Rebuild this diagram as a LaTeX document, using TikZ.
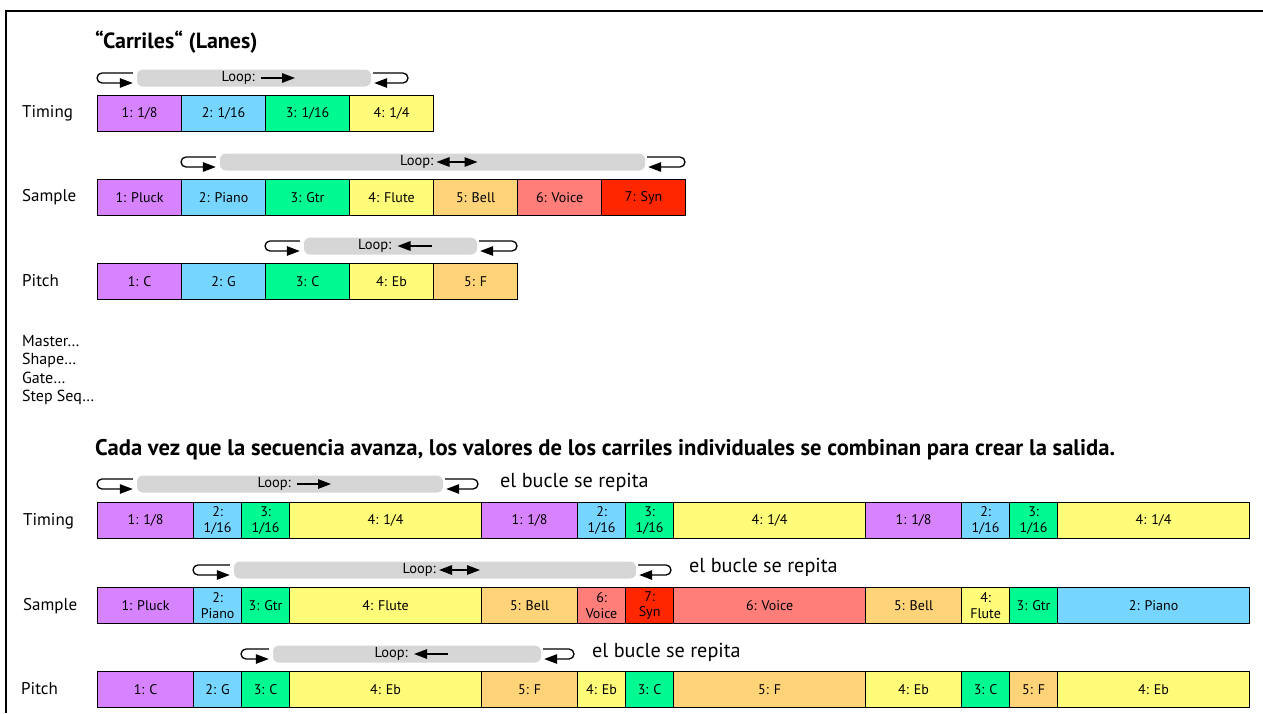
\documentclass[tikz,border=0pt]{standalone}
\usepackage{fontspec}
\setmainfont{PT Sans}
\usetikzlibrary{arrows.meta,positioning}
\definecolor{lav}{HTML}{D783FF}
\definecolor{sky}{HTML}{76D6FF}
\definecolor{foam}{HTML}{00FA92}
\definecolor{banana}{HTML}{FFFC79}
\definecolor{canta}{HTML}{FFD479}
\definecolor{salmon}{HTML}{FF7E79}
\definecolor{mara}{HTML}{FF2600}
\definecolor{barg}{HTML}{D6D6D6}

\begin{document}
\begin{tikzpicture}[x=1pt,y=-1pt,>={Triangle[length=13pt,width=9.5pt]},
  cell/.style={draw,line width=1.2pt,fill=#1,minimum height=36pt,inner sep=0pt,
    anchor=north west,align=center,font=\fontsize{14}{15.5}\selectfont},
  lane/.style={anchor=west,inner sep=0pt,font=\fontsize{17}{20}\selectfont},
  loopbar/.style={fill=barg,rounded corners=6pt,minimum height=17pt,inner sep=0pt},
  looptxt/.style={anchor=east,inner sep=0pt,font=\fontsize{14.5}{16}\selectfont},
  again/.style={anchor=west,inner sep=0pt,font=\fontsize{20.2}{24}\selectfont},
  hook/.style={line width=1.3pt,rounded corners=5pt}]
  \useasboundingbox (0,0) rectangle (1263,713);
  \draw[line width=2.5pt] (6,713) -- (6,11) -- (1263,11);

  \node[anchor=west,inner sep=0pt,font=\bfseries\fontsize{22}{26}\selectfont] (title) at (95,42) {“Carriles“ (Lanes)};

  % lanes, one step each
  \foreach \txt/\col [count=\i] in {{1: 1/8}/lav,{2: 1/16}/sky,{3: 1/16}/foam,{4: 1/4}/banana}
    \node[cell=\col,minimum width=84pt] (tim\i) at ({97+84*(\i-1)},95) {\txt};
  \foreach \txt/\col [count=\i] in {{1: Pluck}/lav,{2: Piano}/sky,{3: Gtr}/foam,{4: Flute}/banana,
      {5: Bell}/canta,{6: Voice}/salmon,{7: Syn}/mara}
    \node[cell=\col,minimum width=84pt] (smp\i) at ({97+84*(\i-1)},179) {\txt};
  \foreach \txt/\col [count=\i] in {{1: C}/lav,{2: G}/sky,{3: C}/foam,{4: Eb}/banana,{5: F}/canta}
    \node[cell=\col,minimum width=84pt] (pit\i) at ({97+84*(\i-1)},263) {\txt};

  \node[lane] (ltim) at (22,113) {Timing};
  \node[lane] (lsmp) at (22,197) {Sample};
  \node[lane] (lpit) at (22,281) {Pitch};
  \node[lane,anchor=north west,align=left,font=\fontsize{16}{18.5}\selectfont] (more) at (22,335)
    {Master…\\Shape…\\Gate…\\Step Seq…};

  \node[anchor=west,inner sep=0pt,font=\bfseries\fontsize{22.6}{26}\selectfont] (combine) at (95,450)
    {Cada vez que la secuencia avanza, los valores de los carriles individuales se combinan para crear la salida.};

  % combined output, widths in 1/16 units
  \foreach \k in {0,1,2}
    \foreach \txt/\col/\s/\w [count=\i] in {{1: 1/8}/lav/0/2,{2:\\1/16}/sky/2/1,{3:\\1/16}/foam/3/1,{4: 1/4}/banana/4/4}
      \node[cell=\col,minimum width=48*\w] (btim\k\i) at ({97+48*(\s+8*\k)},502) {\txt};
  \foreach \txt/\col/\s/\w [count=\i] in {{1: Pluck}/lav/0/2,{2:\\Piano}/sky/2/1,{3: Gtr}/foam/3/1,
      {4: Flute}/banana/4/4,{5: Bell}/canta/8/2,{6:\\Voice}/salmon/10/1,{7:\\Syn}/mara/11/1,
      {6: Voice}/salmon/12/4,{5: Bell}/canta/16/2,{4:\\Flute}/banana/18/1,{3: Gtr}/foam/19/1,{2: Piano}/sky/20/4}
    \node[cell=\col,minimum width=48*\w] (bsmp\i) at ({97+48*\s},587) {\txt};
  \foreach \txt/\col/\s/\w [count=\i] in {{1: C}/lav/0/2,{2: G}/sky/2/1,{3: C}/foam/3/1,{4: Eb}/banana/4/4,
      {5: F}/canta/8/2,{4: Eb}/banana/10/1,{3: C}/foam/11/1,{5: F}/canta/12/4,
      {4: Eb}/banana/16/2,{3: C}/foam/18/1,{5: F}/canta/19/1,{4: Eb}/banana/20/4}
    \node[cell=\col,minimum width=48*\w] (bpit\i) at ({97+48*\s},671) {\txt};

  \node[lane] (bltim) at (23,521) {Timing};
  \node[lane] (blsmp) at (23,606) {Sample};
  \node[lane] (blpit) at (21,689) {Pitch};

  % loop bars
  \foreach \nm/\a/\b/\c/\d/\y/\dir/\p/\q in {tl/97/137/371/408/78/->/7/41,sl/181/220/645/685/162/<->/4/45,
      pl/265/304/477/517/246/<-/7/41,btl/97/137/443/478/484/->/7/41,bsl/193/234/636/671/570/<->/4/45,
      bpl/241/273/541/574/654/<-/7/41}
  {
    \node[loopbar,minimum width=\c-\b] (\nm) at ({(\b+\c)/2},\y) {};
    \node[looptxt] (\nm txt) at ([xshift=1pt]\nm.center) {Loop:};
    \draw[line width=1.3pt,arrows/.expanded=\dir] ([xshift=\p pt]\nm.center) -- ([xshift=\q pt]\nm.center);
    \draw[hook,->] ([xshift=-4pt,yshift=5pt]\nm.west) -- (\a,\y-5) -- (\a,\y+5) -- ([xshift=-4pt,yshift=-5pt]\nm.west);
    \draw[hook,->] ([xshift=2pt,yshift=5pt]\nm.east) -- (\d,\y-5) -- (\d,\y+5) -- ([xshift=3pt,yshift=-5pt]\nm.east);
  }

  \node[again] (rtim) at (500,482) {el bucle se repita};
  \node[again] (rsmp) at (689,567) {el bucle se repita};
  \node[again] (rpit) at (592,652) {el bucle se repita};
\end{tikzpicture}
\end{document}
